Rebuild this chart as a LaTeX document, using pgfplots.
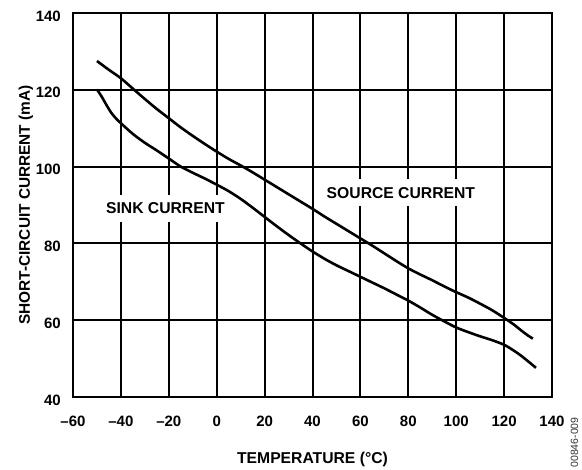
\documentclass[border=0pt]{standalone}
\usepackage{fontspec}
\setmainfont{Liberation Sans}
\usepackage{pgfplots}
\pgfplotsset{compat=1.18}

\newcommand{\tickfont}{\bfseries\fontsize{15bp}{18bp}\selectfont}
\newcommand{\lblfont}{\bfseries\fontsize{15.7bp}{18bp}\selectfont}

\begin{document}
\begin{tikzpicture}
\path[use as bounding box] (-73bp,-73bp) rectangle (509bp,397bp);
\begin{axis}[
  at={(0,0)}, anchor=south west,
  width=479bp, height=384bp, scale only axis,
  xmin=-60, xmax=140, ymin=40, ymax=140,
  xtick={-60,-40,...,140}, ytick={40,60,...,140},
  xticklabels={\textendash60,\textendash40,\textendash20,0,20,40,60,80,100,120,140},
  yticklabels={40,60,80,100,120,140},
  grid=major,
  major grid style={black, line width=2bp},
  axis line style={black, line width=2bp},
  major tick length=0pt,
  tick label style={font=\tickfont},
  xticklabel style={anchor=base, yshift=-29bp},
  yticklabel style={anchor=east, inner sep=0pt, xshift=-12bp, yshift=-3bp},
  xlabel={TEMPERATURE (°C)},
  ylabel={SHORT-CIRCUIT CURRENT (mA)},
  xlabel style={at={([yshift=-66bp]axis description cs:0.5,0)}, anchor=base, font=\lblfont},
  ylabel style={at={([xshift=-43bp]axis description cs:0,0.5)}, anchor=base,
    font=\bfseries\fontsize{15.4bp}{18bp}\selectfont},
]
% source current
\addplot[black, line width=2.6bp, smooth] coordinates {
  (-50,127.5) (-45,125.2) (-40,123) (-35,120.3) (-30,117.6) (-25,115)
  (-20,112.6) (-15,110.2) (-10,108) (-5,105.9) (0,103.9) (5,102)
  (10,100.3) (15,98.5) (20,96.6) (25,94.7) (30,92.8) (35,90.9)
  (40,89) (45,87) (50,85.1) (55,83.2) (60,81.3) (65,79.4)
  (70,77.4) (75,75.4) (80,73.5) (85,71.9) (90,70.4) (95,68.8)
  (100,67.3) (105,65.9) (110,64.3) (115,62.6) (120,60.6) (124,58.9)
  (127,57.4) (130,56.0) (132,55.2)
};
% sink current
\addplot[black, line width=2.6bp, smooth] coordinates {
  (-50,120.1) (-48,118.2) (-46,116) (-44,114) (-42,112.5) (-40,111.3)
  (-35,108.5) (-30,106.2) (-25,104.2) (-20,102.1) (-15,100) (-10,98.4)
  (-5,96.9) (0,95.3) (5,93.6) (10,91.6) (15,89.3) (20,86.9)
  (25,84.5) (30,82.2) (35,80) (40,77.9) (45,76) (50,74.3)
  (55,72.8) (60,71.3) (65,69.8) (70,68.3) (75,66.7) (80,65.1)
  (85,63.3) (90,61.4) (95,59.7) (100,58.1) (105,56.9) (110,55.8)
  (115,54.8) (120,53.6) (124,52.1) (127,50.8) (130,49.3) (133.3,47.6)
};
\node[fill=white, inner xsep=3bp, inner ysep=8bp, font=\lblfont] at (axis cs:-21.4,89.2) {SINK CURRENT};
\node[fill=white, inner xsep=3bp, inner ysep=8bp, font=\lblfont] at (axis cs:76.9,93.2) {SOURCE CURRENT};
\end{axis}
\node[rotate=90, inner sep=0pt, text=black!80, font=\fontsize{10.5bp}{12bp}\selectfont] at (501.5bp,-45.5bp) {00846-009};
\end{tikzpicture}
\end{document}
